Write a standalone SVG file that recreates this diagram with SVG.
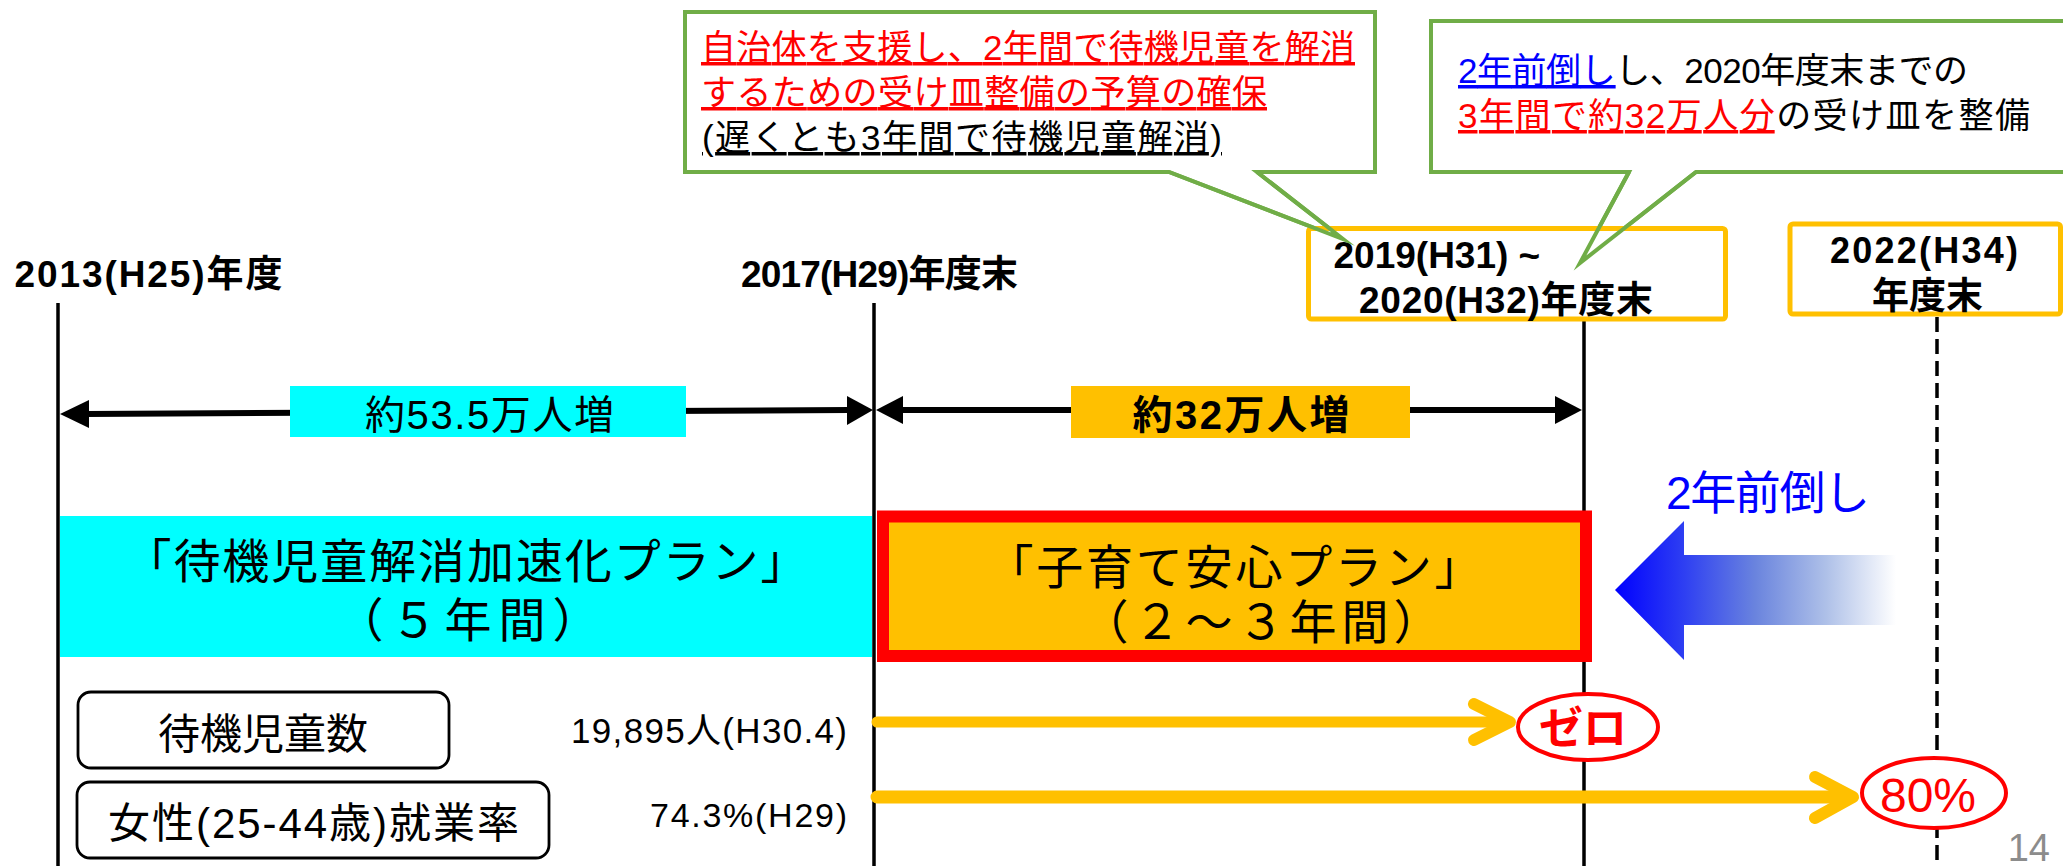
<svg xmlns="http://www.w3.org/2000/svg" width="2063" height="866" viewBox="0 0 2063 866">
<style>
.t{font-family:"Liberation Sans","Noto Sans CJK JP",sans-serif;}
.b{font-weight:bold;}
.vl{stroke:#000;stroke-width:3.5;fill:none;}
.call{fill:#fff;stroke:#70AD47;stroke-width:4;stroke-linejoin:miter;}
.ptr{fill:none;stroke:#70AD47;stroke-width:4;stroke-linejoin:miter;stroke-miterlimit:10;}
.ybox{fill:#fff;stroke:#FFC000;stroke-width:5;}
.rbox{fill:#fff;stroke:#000;stroke-width:2.8;}
.yarr{stroke:#FFC000;fill:none;stroke-linecap:round;stroke-linejoin:round;}
.ell{fill:#fff;stroke:#f00;stroke-width:4;}
</style>
<defs>
<linearGradient id="bg" x1="0" y1="0" x2="1" y2="0">
<stop offset="0" stop-color="#0000FF"/>
<stop offset="0.25" stop-color="#2F40F2"/>
<stop offset="0.5" stop-color="#6A84DE"/>
<stop offset="0.75" stop-color="#AEC0E8"/>
<stop offset="1" stop-color="#FFFFFF"/>
</linearGradient>
</defs>
<rect width="2063" height="866" fill="#fff"/>

<g id="connectors">
<line class="vl" x1="58" y1="303" x2="58" y2="866"/>
<line class="vl" x1="874" y1="303" x2="874" y2="866"/>
<line class="vl" x1="1584" y1="321" x2="1584" y2="866"/>
<line class="vl" x1="1937" y1="317" x2="1937" y2="866" stroke-dasharray="15,7"/>
<line x1="86" y1="414" x2="850" y2="410" stroke="#000" stroke-width="6"/>
<polygon points="60,414 89,400 89,428" fill="#000"/>
<polygon points="873,410 847,396 847,425" fill="#000"/>
<line x1="900" y1="410" x2="1558" y2="410" stroke="#000" stroke-width="6"/>
<polygon points="876,410 903,396 903,424" fill="#000"/>
<polygon points="1582,410 1555,396 1555,424" fill="#000"/>
</g>

<g id="label-2013">
<text class="t b" x="14.5" y="287" font-size="37" textLength="268">2013(H25)年度</text>
</g>
<g id="label-2017">
<text class="t b" x="741" y="287" font-size="37" textLength="277">2017(H29)年度末</text>
</g>

<g id="callout-left">
<path class="call" d="M685,12 H1375 V172 H1257 L1343,239 L1169,172 H685 Z"/>
<text class="t" x="701" y="60" font-size="35" fill="#f00" text-decoration="underline" textLength="654">自治体を支援し、2年間で待機児童を解消</text>
<text class="t" x="701" y="105" font-size="35" fill="#f00" text-decoration="underline" textLength="566">するための受け皿整備の予算の確保</text>
<text class="t" x="702" y="150" font-size="35" fill="#000" text-decoration="underline" textLength="520">(遅くとも3年間で待機児童解消)</text>
</g>

<g id="callout-right">
<path class="call" d="M1431,21 H2075 V172 H1696 L1580,263 L1629,172 H1431 Z"/>
<text class="t" x="1458" y="83" font-size="35" fill="#000" textLength="510"><tspan fill="#00f" text-decoration="underline">2年前倒し</tspan>し、2020年度末までの</text>
<text class="t" x="1458" y="128" font-size="35" fill="#000" textLength="572"><tspan fill="#f00" text-decoration="underline">3年間で約32万人分</tspan>の受け皿を整備</text>
</g>

<g id="year-2020">
<rect class="ybox" x="1308.5" y="228.5" width="417" height="90.5" rx="3"/>
<text class="t b" x="1333.5" y="268" font-size="37">2019(H31) ~</text>
<text class="t b" x="1359" y="313" font-size="37" textLength="294">2020(H32)年度末</text>
</g>

<g id="callout-pointers">
<polyline class="ptr" points="1169,172 1343,239 1257,172"/>
<polyline class="ptr" points="1629,172 1580,263 1696,172"/>
</g>

<g id="year-2022">
<rect class="ybox" x="1790" y="224" width="270.5" height="90" rx="3"/>
<text class="t b" x="1830" y="263" font-size="36" textLength="188">2022(H34)</text>
<text class="t b" x="1927.5" y="309" font-size="37" text-anchor="middle">年度末</text>
</g>

<g id="increase-535">
<rect x="290" y="386" width="396" height="51" fill="#00FFFF"/>
<text class="t" x="489.5" y="429" font-size="40" text-anchor="middle" textLength="249">約53.5万人増</text>
</g>
<g id="increase-32">
<rect x="1071" y="386" width="339" height="52" fill="#FFC000"/>
<text class="t b" x="1241" y="429" font-size="40" text-anchor="middle" textLength="217">約32万人増</text>
</g>

<g id="plan-kasoku">
<rect x="60" y="516" width="812" height="141" fill="#00FFFF"/>
<text class="t" x="466" y="578" font-size="47" text-anchor="middle" textLength="683">「待機児童解消加速化プラン」</text>
<text class="t" x="468" y="637" font-size="47" text-anchor="middle" textLength="263">（５年間）</text>
</g>

<g id="plan-kosodate">
<rect x="883" y="516.5" width="703" height="139.5" fill="#FFC000" stroke="#FF0000" stroke-width="12"/>
<text class="t" x="1234" y="584" font-size="47" text-anchor="middle" textLength="495">「子育て安心プラン」</text>
<text class="t" x="1261" y="639" font-size="47" text-anchor="middle" textLength="359">（２～３年間）</text>
</g>

<g id="maedaoshi">
<polygon points="1615,590 1684,521 1684,555 1896,555 1896,625 1684,625 1684,660" fill="url(#bg)"/>
<text class="t" x="1666" y="509" font-size="46" fill="#00f" textLength="204">2年前倒し</text>
</g>

<g id="box-taiki">
<rect class="rbox" x="78" y="692" width="371" height="76" rx="13"/>
<text class="t" x="263" y="749" font-size="42" text-anchor="middle">待機児童数</text>
<text class="t" x="847" y="743" font-size="35" text-anchor="end" textLength="276">19,895人(H30.4)</text>
</g>
<g id="box-shugyo">
<rect class="rbox" x="77" y="782" width="472" height="76" rx="13"/>
<text class="t" x="313.5" y="838" font-size="42" text-anchor="middle" textLength="411">女性(25-44歳)就業率</text>
<text class="t" x="847" y="827" font-size="34" text-anchor="end" textLength="197">74.3%(H29)</text>
</g>

<g id="arrow-zero">
<line class="yarr" x1="877" y1="722" x2="1505" y2="722" stroke-width="11" stroke-linecap="butt"/>
<polyline class="yarr" points="1474,704 1510,722 1474,740" stroke-width="12"/>
</g>
<g id="arrow-80">
<line class="yarr" x1="877" y1="797" x2="1850" y2="797" stroke-width="13" stroke-linecap="butt"/>
<polyline class="yarr" points="1815,777 1853,797 1815,818" stroke-width="12"/>
</g>

<g id="zero">
<ellipse class="ell" cx="1588" cy="727" rx="70" ry="33"/>
<text class="t b" x="1583" y="744" font-size="44" fill="#f00" text-anchor="middle">ゼロ</text>
</g>
<g id="eighty">
<ellipse class="ell" cx="1934" cy="793" rx="72" ry="35"/>
<text class="t" x="1928" y="812" font-size="48" fill="#f00" text-anchor="middle">80%</text>
</g>

<g id="page">
<text class="t" x="2050" y="861" font-size="38" fill="#8c8c8c" text-anchor="end">14</text>
</g>
</svg>
